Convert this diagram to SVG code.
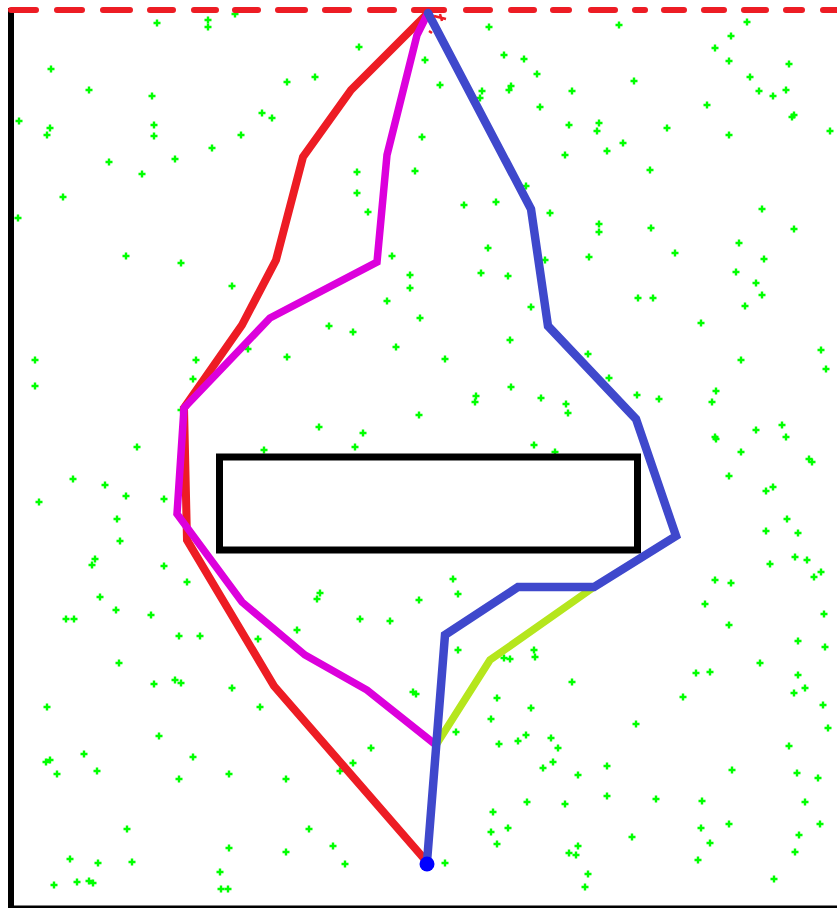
<svg xmlns="http://www.w3.org/2000/svg" xmlns:xlink="http://www.w3.org/1999/xlink" width="837" height="908" viewBox="0 0 837 908">
<style>
.pt{fill:none;stroke:#00ff00;stroke-width:2.4}
.path{fill:none;stroke-linejoin:miter;stroke-linecap:round}
.frame{stroke:#000;fill:none}
</style>
<defs>
<path id="g" class="pt" d="M-3.5 0H3.5M0-3.5V3.5"/>
</defs>
<rect width="837" height="908" fill="#fff"/>
<g id="frame">
<line class="frame" x1="11" y1="8" x2="11" y2="908" stroke-width="6"/>
<line class="frame" x1="8" y1="907" x2="837" y2="907" stroke-width="3"/>
</g>
<g id="samples">
<use href="#g" x="157" y="23"/><use href="#g" x="208" y="20"/><use href="#g" x="208" y="27"/><use href="#g" x="235" y="14"/><use href="#g" x="51" y="69"/><use href="#g" x="89" y="90"/><use href="#g" x="152" y="96"/><use href="#g" x="19" y="121"/><use href="#g" x="50" y="128"/><use href="#g" x="47" y="135"/><use href="#g" x="154" y="125"/><use href="#g" x="154" y="136"/><use href="#g" x="262" y="113"/><use href="#g" x="272" y="118"/><use href="#g" x="241" y="135"/><use href="#g" x="212" y="148"/><use href="#g" x="109" y="162"/><use href="#g" x="175" y="159"/><use href="#g" x="142" y="174"/><use href="#g" x="63" y="197"/><use href="#g" x="18" y="218"/><use href="#g" x="126" y="256"/><use href="#g" x="181" y="263"/><use href="#g" x="232" y="286"/><use href="#g" x="35" y="360"/><use href="#g" x="35" y="386"/><use href="#g" x="196" y="360"/><use href="#g" x="193" y="379"/><use href="#g" x="248" y="349"/><use href="#g" x="181" y="410"/><use href="#g" x="137" y="447"/><use href="#g" x="264" y="450"/>
<use href="#g" x="489" y="27"/><use href="#g" x="359" y="47"/><use href="#g" x="425" y="60"/><use href="#g" x="504" y="55"/><use href="#g" x="524" y="59"/><use href="#g" x="537" y="74"/><use href="#g" x="287" y="82"/><use href="#g" x="315" y="77"/><use href="#g" x="440" y="85"/><use href="#g" x="482" y="91"/><use href="#g" x="480" y="98"/><use href="#g" x="511" y="86"/><use href="#g" x="509" y="90"/><use href="#g" x="540" y="107"/><use href="#g" x="422" y="137"/><use href="#g" x="357" y="172"/><use href="#g" x="415" y="171"/><use href="#g" x="357" y="193"/><use href="#g" x="368" y="212"/><use href="#g" x="464" y="205"/><use href="#g" x="496" y="202"/><use href="#g" x="526" y="186"/><use href="#g" x="550" y="213"/><use href="#g" x="392" y="256"/><use href="#g" x="488" y="248"/><use href="#g" x="545" y="260"/><use href="#g" x="410" y="275"/><use href="#g" x="410" y="288"/><use href="#g" x="481" y="273"/><use href="#g" x="508" y="276"/><use href="#g" x="387" y="301"/><use href="#g" x="420" y="318"/><use href="#g" x="531" y="307"/><use href="#g" x="329" y="326"/><use href="#g" x="353" y="332"/><use href="#g" x="396" y="347"/><use href="#g" x="510" y="340"/><use href="#g" x="287" y="357"/><use href="#g" x="445" y="359"/><use href="#g" x="511" y="387"/><use href="#g" x="476" y="396"/><use href="#g" x="475" y="402"/><use href="#g" x="541" y="398"/><use href="#g" x="419" y="415"/><use href="#g" x="319" y="427"/><use href="#g" x="363" y="433"/><use href="#g" x="355" y="447"/><use href="#g" x="534" y="445"/><use href="#g" x="555" y="452"/>
<use href="#g" x="619" y="25"/><use href="#g" x="747" y="22"/><use href="#g" x="731" y="36"/><use href="#g" x="715" y="48"/><use href="#g" x="729" y="61"/><use href="#g" x="789" y="64"/><use href="#g" x="634" y="81"/><use href="#g" x="572" y="91"/><use href="#g" x="750" y="77"/><use href="#g" x="759" y="91"/><use href="#g" x="773" y="96"/><use href="#g" x="786" y="90"/><use href="#g" x="707" y="105"/><use href="#g" x="792" y="117"/><use href="#g" x="794" y="115"/><use href="#g" x="569" y="125"/><use href="#g" x="599" y="123"/><use href="#g" x="597" y="131"/><use href="#g" x="667" y="128"/><use href="#g" x="729" y="135"/><use href="#g" x="830" y="131"/><use href="#g" x="623" y="143"/><use href="#g" x="607" y="151"/><use href="#g" x="565" y="155"/><use href="#g" x="650" y="170"/><use href="#g" x="762" y="209"/><use href="#g" x="599" y="224"/><use href="#g" x="599" y="232"/><use href="#g" x="651" y="228"/><use href="#g" x="794" y="229"/><use href="#g" x="739" y="243"/><use href="#g" x="764" y="259"/><use href="#g" x="589" y="257"/><use href="#g" x="675" y="253"/><use href="#g" x="736" y="272"/><use href="#g" x="756" y="283"/><use href="#g" x="762" y="295"/><use href="#g" x="745" y="306"/><use href="#g" x="638" y="298"/><use href="#g" x="653" y="298"/><use href="#g" x="701" y="323"/><use href="#g" x="821" y="350"/><use href="#g" x="826" y="369"/><use href="#g" x="588" y="354"/><use href="#g" x="609" y="378"/><use href="#g" x="637" y="395"/><use href="#g" x="659" y="399"/><use href="#g" x="566" y="404"/><use href="#g" x="568" y="413"/><use href="#g" x="716" y="391"/><use href="#g" x="712" y="402"/><use href="#g" x="741" y="360"/><use href="#g" x="782" y="425"/><use href="#g" x="756" y="430"/><use href="#g" x="786" y="437"/><use href="#g" x="715" y="437"/><use href="#g" x="716" y="439"/><use href="#g" x="741" y="452"/>
<use href="#g" x="73" y="479"/><use href="#g" x="105" y="485"/><use href="#g" x="126" y="496"/><use href="#g" x="39" y="502"/><use href="#g" x="164" y="499"/><use href="#g" x="117" y="519"/><use href="#g" x="120" y="541"/><use href="#g" x="95" y="559"/><use href="#g" x="92" y="565"/><use href="#g" x="164" y="566"/><use href="#g" x="187" y="582"/><use href="#g" x="100" y="597"/><use href="#g" x="116" y="610"/><use href="#g" x="151" y="615"/><use href="#g" x="66" y="619"/><use href="#g" x="74" y="619"/><use href="#g" x="179" y="636"/><use href="#g" x="200" y="636"/><use href="#g" x="258" y="639"/><use href="#g" x="119" y="663"/><use href="#g" x="154" y="684"/><use href="#g" x="175" y="680"/><use href="#g" x="181" y="683"/><use href="#g" x="232" y="688"/><use href="#g" x="47" y="707"/><use href="#g" x="260" y="707"/><use href="#g" x="159" y="736"/><use href="#g" x="84" y="754"/><use href="#g" x="193" y="757"/><use href="#g" x="46" y="762"/><use href="#g" x="50" y="760"/><use href="#g" x="57" y="774"/><use href="#g" x="97" y="771"/><use href="#g" x="179" y="779"/><use href="#g" x="229" y="774"/><use href="#g" x="127" y="829"/><use href="#g" x="229" y="848"/><use href="#g" x="70" y="859"/><use href="#g" x="98" y="863"/><use href="#g" x="132" y="862"/><use href="#g" x="220" y="872"/><use href="#g" x="54" y="885"/><use href="#g" x="77" y="882"/><use href="#g" x="89" y="881"/><use href="#g" x="93" y="883"/><use href="#g" x="221" y="889"/><use href="#g" x="228" y="889"/>
<use href="#g" x="453" y="579"/><use href="#g" x="320" y="593"/><use href="#g" x="317" y="599"/><use href="#g" x="458" y="594"/><use href="#g" x="419" y="600"/><use href="#g" x="360" y="619"/><use href="#g" x="390" y="621"/><use href="#g" x="297" y="630"/><use href="#g" x="458" y="650"/><use href="#g" x="534" y="650"/><use href="#g" x="535" y="657"/><use href="#g" x="504" y="658"/><use href="#g" x="510" y="659"/><use href="#g" x="413" y="692"/><use href="#g" x="416" y="694"/><use href="#g" x="497" y="698"/><use href="#g" x="531" y="708"/><use href="#g" x="491" y="719"/><use href="#g" x="456" y="732"/><use href="#g" x="499" y="744"/><use href="#g" x="518" y="741"/><use href="#g" x="526" y="735"/><use href="#g" x="551" y="738"/><use href="#g" x="558" y="748"/><use href="#g" x="553" y="762"/><use href="#g" x="543" y="768"/><use href="#g" x="371" y="748"/><use href="#g" x="353" y="763"/><use href="#g" x="340" y="771"/><use href="#g" x="286" y="779"/><use href="#g" x="527" y="802"/><use href="#g" x="493" y="812"/><use href="#g" x="508" y="828"/><use href="#g" x="491" y="832"/><use href="#g" x="497" y="844"/><use href="#g" x="309" y="829"/><use href="#g" x="333" y="846"/><use href="#g" x="286" y="852"/><use href="#g" x="345" y="864"/><use href="#g" x="445" y="863"/>
<use href="#g" x="809" y="459"/><use href="#g" x="812" y="462"/><use href="#g" x="729" y="476"/><use href="#g" x="766" y="491"/><use href="#g" x="773" y="487"/><use href="#g" x="787" y="519"/><use href="#g" x="766" y="531"/><use href="#g" x="798" y="533"/><use href="#g" x="795" y="557"/><use href="#g" x="807" y="560"/><use href="#g" x="770" y="564"/><use href="#g" x="821" y="572"/><use href="#g" x="814" y="577"/><use href="#g" x="715" y="580"/><use href="#g" x="731" y="583"/><use href="#g" x="705" y="604"/><use href="#g" x="729" y="625"/><use href="#g" x="824" y="614"/><use href="#g" x="798" y="641"/><use href="#g" x="825" y="647"/><use href="#g" x="760" y="663"/><use href="#g" x="696" y="673"/><use href="#g" x="710" y="672"/><use href="#g" x="798" y="675"/><use href="#g" x="805" y="688"/><use href="#g" x="794" y="693"/><use href="#g" x="683" y="697"/><use href="#g" x="572" y="682"/><use href="#g" x="823" y="705"/><use href="#g" x="828" y="728"/><use href="#g" x="636" y="724"/><use href="#g" x="789" y="746"/><use href="#g" x="607" y="766"/><use href="#g" x="578" y="775"/><use href="#g" x="732" y="770"/><use href="#g" x="797" y="773"/><use href="#g" x="818" y="778"/><use href="#g" x="607" y="796"/><use href="#g" x="565" y="804"/><use href="#g" x="656" y="799"/><use href="#g" x="702" y="801"/><use href="#g" x="805" y="802"/><use href="#g" x="701" y="828"/><use href="#g" x="729" y="824"/><use href="#g" x="820" y="824"/><use href="#g" x="799" y="835"/><use href="#g" x="632" y="837"/><use href="#g" x="710" y="843"/><use href="#g" x="578" y="846"/><use href="#g" x="569" y="853"/><use href="#g" x="576" y="855"/><use href="#g" x="795" y="852"/><use href="#g" x="698" y="860"/><use href="#g" x="588" y="874"/><use href="#g" x="585" y="887"/><use href="#g" x="774" y="879"/>
</g>
<g id="obstacle">
<rect x="219.5" y="457" width="418" height="93" fill="none" stroke="#000" stroke-width="7"/>
</g>
<g id="connectors">
<path id="goal-line" fill="none" stroke="#ed1c24" stroke-width="6" stroke-linecap="round" d="M11 10H36M57 10H82M103 10H130M150 10H173M194 10H216M235 10H258M278 10H305M325 10H349M370 10H394M414 10H444M466 10H490M511 10H534M553 10H569M591 10H615M635 10H645M664 10H684M704 10H724M744 10H766M786 10H802M823 10H840"/>
<path id="path-red" class="path" stroke="#ed1c24" stroke-width="8" d="M427 14L351 90L303 157L276 260L242 325L184 408L187 540L274 686L427 862"/>
<path id="path-magenta" class="path" stroke="#dc00dc" stroke-width="7.5" d="M427 15L417 35L387 155L377 262L270 318L184 408L177 514L242 602L305 655L367 690L436 745"/>
<path id="path-green" class="path" stroke="#b5e61d" stroke-width="7.5" d="M594 587L490 660L436 745"/>
<path id="path-blue" class="path" stroke="#3f48cc" stroke-width="8.5" d="M428 13L531 209L548 326L636 419L676 536L594 587L518 587L445 635L427 862"/>
<path id="goal-mark" fill="none" stroke="#ed1c24" stroke-width="2.5" d="M434 16L446 19M440 14L442 21M429 31L432 33"/>
</g>
<g id="start">
<circle cx="427" cy="864" r="7.5" fill="#0000ff"/>
</g>
</svg>
